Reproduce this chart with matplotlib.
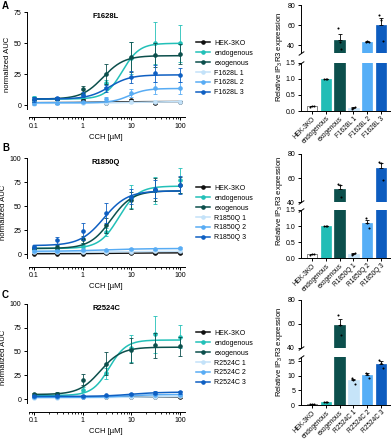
import numpy as np
import matplotlib
matplotlib.use("Agg")
import matplotlib.pyplot as plt

plt.rcParams['font.family'] = ['Liberation Sans', 'DejaVu Sans']
plt.rcParams['font.size'] = 5
plt.rcParams['mathtext.default'] = 'regular'
plt.rcParams['axes.linewidth'] = 0.7

# ---- data ----
CCH = [0.1, 0.3, 1, 3, 10, 30, 100]
colors = ['#111111', '#22c0b8', '#0c4f4c', '#c3e2f9', '#58acf4', '#0e5fc2']

A_names = ['HEK-3KO', 'endogenous', 'exogenous', 'F1628L 1', 'F1628L 2', 'F1628L 3']
A_mean = [[1.6, 2.0, 4.3, 2.0, 4.3, 1.6, 2.7],
          [5.6, 5.4, 8.0, 17.7, 37.9, 50.0, 50.0],
          [4.3, 5.4, 12.9, 25.2, 39.2, 40.6, 41.4],
          [1.0, 1.5, 2.0, 2.0, 3.0, 3.0, 3.0],
          [2.0, 2.0, 2.7, 4.8, 9.7, 13.7, 13.7],
          [5.0, 5.5, 8.3, 13.7, 22.6, 25.8, 24.4]]
A_err = [[1, 1, 1, 1, 1, 1, 1],
         [2, 1.5, 2, 3, 13, 17, 15],
         [2, 1.5, 3, 8, 12, 10, 8],
         [1, 1, 1, 1, 1, 1, 1],
         [1.5, 1, 1, 2, 3, 5, 5],
         [2, 1.5, 2, 3, 5, 7, 6]]
# fit: bottom, top, EC50, hill
A_fit = [(2.0, 3.0, 3.0, 1.0), (5.0, 50.0, 6.5, 2.5), (5.0, 40.0, 2.6, 2.0),
         (1.5, 3.0, 10.0, 1.0), (2.0, 13.5, 9.0, 2.5), (5.0, 24.5, 3.5, 2.0)]

B_names = ['HEK-3KO', 'endogenous', 'exogenous', 'R1850Q 1', 'R1850Q 2', 'R1850Q 3']
B_mean = [[0.5, 0.5, 0.5, 1.0, 1.5, 1.5, 1.5],
          [5.6, 5.6, 9.0, 23.0, 59.7, 66.8, 77.0],
          [6.6, 7.3, 15.4, 30.0, 56.0, 67.0, 72.0],
          [2.0, 2.0, 2.5, 2.5, 2.5, 3.0, 3.0],
          [3.0, 3.5, 4.0, 4.5, 5.0, 5.5, 6.0],
          [8.0, 14.4, 24.0, 43.0, 60.0, 68.0, 72.0]]
B_err = [[0.8] * 7,
         [1.5, 2, 3, 4, 12, 14, 13],
         [1.5, 2, 4, 8, 9, 12, 8],
         [1] * 7,
         [1] * 7,
         [2, 4, 9, 10, 8, 9, 9]]
B_fit = [(0.5, 1.5, 5.0, 1.0), (6.0, 71.0, 5.5, 2.2), (6.0, 66.0, 3.8, 2.0),
         (2.0, 3.0, 5.0, 1.0), (3.0, 6.0, 3.0, 1.0), (9.0, 66.0, 2.7, 1.8)]

C_names = ['HEK-3KO', 'endogenous', 'exogenous', 'R2524C 1', 'R2524C 2', 'R2524C 3']
C_mean = [[2.5, 2.5, 2.5, 2.5, 2.5, 2.0, 2.5],
          [3.0, 4.2, 10.2, 27.0, 53.2, 67.9, 65.4],
          [5.2, 5.2, 20.6, 37.4, 51.4, 56.7, 55.6],
          [1.5, 1.5, 2.0, 2.0, 2.5, 2.5, 3.0],
          [2.0, 2.5, 2.5, 3.0, 4.5, 5.0, 5.0],
          [3.0, 3.0, 3.5, 4.0, 5.5, 7.0, 7.5]]
C_err = [[0.8] * 7,
         [1, 1.5, 3, 6, 14, 19, 12],
         [1.5, 2, 6, 12, 13, 13, 10],
         [1] * 7,
         [1] * 7,
         [1, 1, 1, 1, 1.5, 1.5, 1.5]]
C_fit = [(2.5, 2.5, 5.0, 1.0), (4.0, 62.0, 3.5, 2.5), (5.0, 54.5, 2.3, 2.0),
         (1.5, 3.0, 10.0, 1.0), (2.0, 5.0, 8.0, 1.5), (3.0, 7.5, 10.0, 1.5)]

# bar charts: relative IP3R3 expression
A_bar = [0.15, 1.0, 45.5, 0.1, 43.5, 60.0]
A_sem = [0.01, 0.0, 6.0, 0.02, 0.2, 7.5]
A_pts = [[0.13, 0.17, 0.16], [1, 1, 1], [57, 43, 36.5], [0.07, 0.1, 0.13],
         [43.3, 43.6, 43.5], [70, 65.5, 44.5]]
B_bar = [0.12, 1.0, 51.0, 0.13, 1.09, 68.0]
B_sem = [0.01, 0.0, 3.3, 0.02, 0.09, 4.8]
B_pts = [[0.11, 0.12, 0.13], [1, 1, 1], [54.7, 53.9, 44.4], [0.1, 0.12, 0.17],
         [1.24, 1.1, 0.93], [73, 72.5, 58.5]]
C_bar = [0.2, 1.0, 59.1, 8.4, 10.3, 14.1]
C_sem = [0.02, 0.0, 4.8, 0.6, 0.5, 0.8]
C_pts = [[0.2, 0.2, 0.2], [1, 1, 1], [67.5, 59, 50.8], [9.3, 8.7, 7.2],
         [11, 10.5, 9.3], [15.3, 14.5, 12.5]]
bar_colors = ['white', '#22bdb6', '#0c4f4c', '#c6e4f9', '#55aef7', '#0d5cbf']


def hill(x, b, t, ec, h):
    return b + (t - b) / (1 + (ec / x) ** h)


def line_panel(rect, title, names, means, errs, fits, ymax, yticks, leg_y):
    ax = fig.add_axes(rect)
    xs = np.logspace(-1, 2, 200)
    for i in range(len(names)):
        ax.plot(xs, hill(xs, *fits[i]), color=colors[i], lw=1.1, zorder=2 + i)
        ax.errorbar(CCH, means[i], yerr=errs[i], fmt='o', ms=2.3, color=colors[i],
                    elinewidth=0.6, capsize=1.3, capthick=0.6, zorder=2 + i)
    ax.set_xscale('log')
    ax.set_xlim(0.072, 125)
    ymin = -0.13 * ymax
    ax.set_ylim(ymin, ymax)
    ax.set_yticks(yticks)
    ax.set_xticks([0.1, 1, 10, 100])
    ax.set_xticklabels(['0.1', '1', '10', '100'])
    ax.spines['top'].set_visible(False)
    ax.spines['right'].set_visible(False)
    ax.spines['left'].set_bounds(ymin * 0.3, ymax)
    ax.spines['bottom'].set_bounds(0.08, 125)
    ax.tick_params(length=2.5, width=0.7, pad=1.5)
    ax.tick_params(which='minor', length=1.5, width=0.6)
    ax.set_xlabel('CCH [µM]', fontsize=5.5, labelpad=3)
    ax.set_ylabel('normalized AUC', fontsize=5.5, labelpad=2)
    ax.text(0.5, 0.99, title, transform=ax.transAxes, ha='center', va='top',
            fontsize=5.5, fontweight='bold')
    handles = [plt.Line2D([], [], color=colors[i], marker='o', ms=2.3, lw=1.1)
               for i in range(len(names))]
    fig.legend(handles, names, loc='upper left', bbox_to_anchor=(0.502, leg_y),
               frameon=False, fontsize=5, handlelength=2.0, handletextpad=0.6,
               labelspacing=0.42, borderpad=0, borderaxespad=0)
    return ax


def bar_panel(lo_rect, hi_rect, vals, sems, pts, lo_lim, lo_ticks, lo_labels,
              hi_lim, labels, ylab_y):
    lo = fig.add_axes(lo_rect)
    hi = fig.add_axes(hi_rect)
    x = np.arange(len(vals))
    for ax in (lo, hi):
        ax.bar(x, vals, width=0.76, color=bar_colors, edgecolor=['#555555'] + bar_colors[1:],
               linewidth=0.5, zorder=2)
        for i in x:
            ax.errorbar(i, vals[i], yerr=[[0], [sems[i]]], color='black', elinewidth=0.6,
                        capsize=1.3, capthick=0.6, zorder=3)
            ax.scatter(i + np.array([-0.12, 0, 0.12]), pts[i], s=2.2, color='black',
                       zorder=4, linewidths=0)
        ax.set_xlim(-0.82, 5.65)
        ax.spines['top'].set_visible(False)
        ax.spines['right'].set_visible(False)
        ax.tick_params(length=2.5, width=0.7, pad=1.5)
    lo.set_ylim(*lo_lim)
    lo.set_yticks(lo_ticks)
    lo.set_yticklabels(lo_labels)
    lo.set_xticks(x)
    lo.set_xticklabels(labels, rotation=45, ha='right', rotation_mode='anchor',
                       fontsize=4.7)
    lo.tick_params(axis='x', length=2, pad=1)
    hi.set_ylim(*hi_lim)
    hi.set_yticks([40, 60, 80])
    hi.spines['bottom'].set_visible(False)
    hi.set_xticks([])
    mk = [(-1, -0.7), (1, 0.7)]
    for ax, yy in ((hi, 0), (lo, 1)):
        ax.plot([0], [yy], transform=ax.transAxes, marker=mk, ms=4, mew=0.7,
                color='black', linestyle='none', clip_on=False)
    fig.text(0.716, ylab_y, 'Relative IP$_3$R3 expression', rotation=90,
             ha='center', va='center', fontsize=5.5)


fig = plt.figure(figsize=(3.91, 4.40), dpi=100)

line_panel([0.0691, 0.7334, 0.404, 0.2386], 'F1628L', A_names, A_mean, A_err, A_fit,
           75, [0, 25, 50, 75], 0.9095)
line_panel([0.0691, 0.3939, 0.404, 0.2464], 'R1850Q', B_names, B_mean, B_err, B_fit,
           100, [0, 25, 50, 75, 100], 0.58)
line_panel([0.0691, 0.0643, 0.404, 0.2455], 'R2524C', C_names, C_mean, C_err, C_fit,
           100, [0, 25, 50, 75, 100], 0.2505)

bar_panel([0.769, 0.7477, 0.2284, 0.1098], [0.769, 0.8795, 0.2284, 0.1091],
          A_bar, A_sem, A_pts, (0, 1.5), [0, 0.5, 1.0, 1.5], ['0.0', '0.5', '1.0', '1.5'],
          (32, 80), A_names, 0.87)
bar_panel([0.769, 0.4130, 0.2284, 0.1098], [0.769, 0.5409, 0.2284, 0.1091],
          B_bar, B_sem, B_pts, (0, 1.5), [0, 0.5, 1.0, 1.5], ['0.0', '0.5', '1.0', '1.5'],
          (40, 80), B_names, 0.543)
bar_panel([0.769, 0.0795, 0.2284, 0.1098], [0.769, 0.2091, 0.2284, 0.1091],
          C_bar, C_sem, C_pts, (0, 16.5), [0, 5, 10, 15], ['0', '5', '10', '15'],
          (40, 80), C_names, 0.2)

for letter, yy in (('A', 0.987), ('B', 0.664), ('C', 0.329)):
    fig.text(0.005, yy, letter, fontsize=7, fontweight='bold', va='center')

fig.savefig('out.png', dpi=100)
